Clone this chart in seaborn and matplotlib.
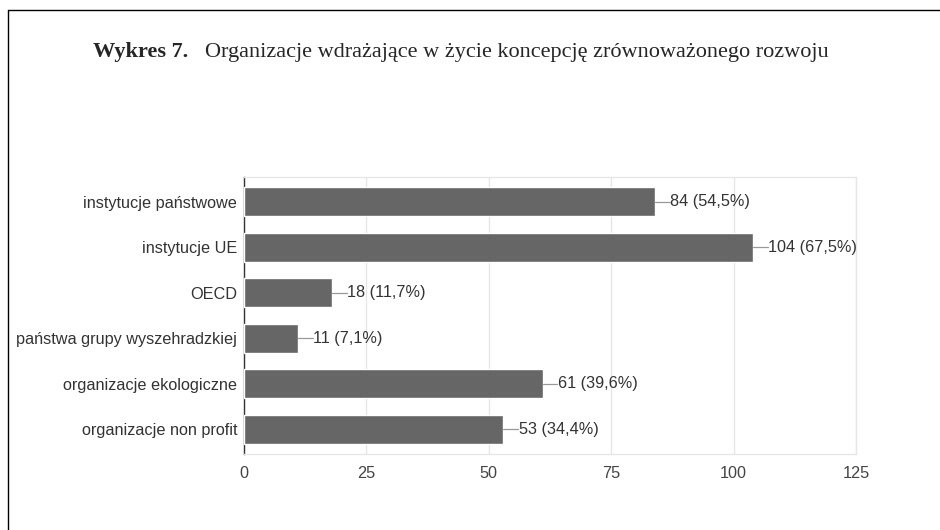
import matplotlib
matplotlib.use("Agg")
import matplotlib.pyplot as plt
import seaborn as sns
import pandas as pd
from matplotlib.lines import Line2D

# chart data
categories = ["instytucje państwowe", "instytucje UE", "OECD",
              "państwa grupy wyszehradzkiej", "organizacje ekologiczne",
              "organizacje non profit"]
counts = [84, 104, 18, 11, 61, 53]
percents = ["54,5%", "67,5%", "11,7%", "7,1%", "39,6%", "34,4%"]
x_ticks = [0, 25, 50, 75, 100, 125]

df = pd.DataFrame({"category": categories, "count": counts})

sns.set_theme(style="white")
plt.rcParams["font.family"] = ["Liberation Sans", "DejaVu Sans"]

fig = plt.figure(figsize=(9.4, 5.3), dpi=100)
ax = fig.add_axes([244 / 940, 1 - 454 / 530, (856 - 244) / 940, (454 - 177) / 530])

sns.barplot(data=df, x="count", y="category", color="#666666", width=0.63,
            saturation=1, ax=ax, zorder=3)

ax.set_xlim(0, 125)
ax.set_ylim(5.54, -0.54)
ax.set_xticks(x_ticks)
ax.set_xticklabels([str(t) for t in x_ticks], fontsize=11.7, color="#444444")
ax.tick_params(axis="x", length=0, pad=9)
ax.tick_params(axis="y", length=0, pad=5, labelsize=11.7, labelcolor="#333333")
ax.set_xlabel("")
ax.set_ylabel("")
ax.grid(axis="x", color="#e6e6e6", linewidth=1, zorder=0)

for side in ["top", "right", "bottom"]:
    ax.spines[side].set_color("#e6e6e6")
    ax.spines[side].set_linewidth(1)
ax.spines["left"].set_color("#333333")
ax.spines["left"].set_linewidth(1)

# value labels with short leader lines
for i, (c, p) in enumerate(zip(counts, percents)):
    ax.plot([c, c + 3.0], [i, i], color="#999999", linewidth=0.9, zorder=4,
            clip_on=False)
    ax.text(c + 3.1, i, f"{c} ({p})", va="center", ha="left", fontsize=11.7,
            color="#333333")

# title
serif = ["Liberation Serif", "DejaVu Serif"]
fig.text(93 / 940, 1 - 57 / 530, "Wykres 7.", fontsize=16, fontweight="bold",
         family=serif, va="baseline", ha="left")
fig.text(205 / 940, 1 - 57 / 530,
         "Organizacje wdrażające w życie koncepcję zrównoważonego rozwoju",
         fontsize=16, family=serif, va="baseline", ha="left")

# page frame (left and top edges)
fig.add_artist(Line2D([8 / 940, 8 / 940], [0, 1 - 10 / 530], color="black",
                      linewidth=1, transform=fig.transFigure))
fig.add_artist(Line2D([8 / 940, 1], [1 - 10 / 530, 1 - 10 / 530],
                      color="black", linewidth=1, transform=fig.transFigure))

fig.savefig("out.png", dpi=100)
